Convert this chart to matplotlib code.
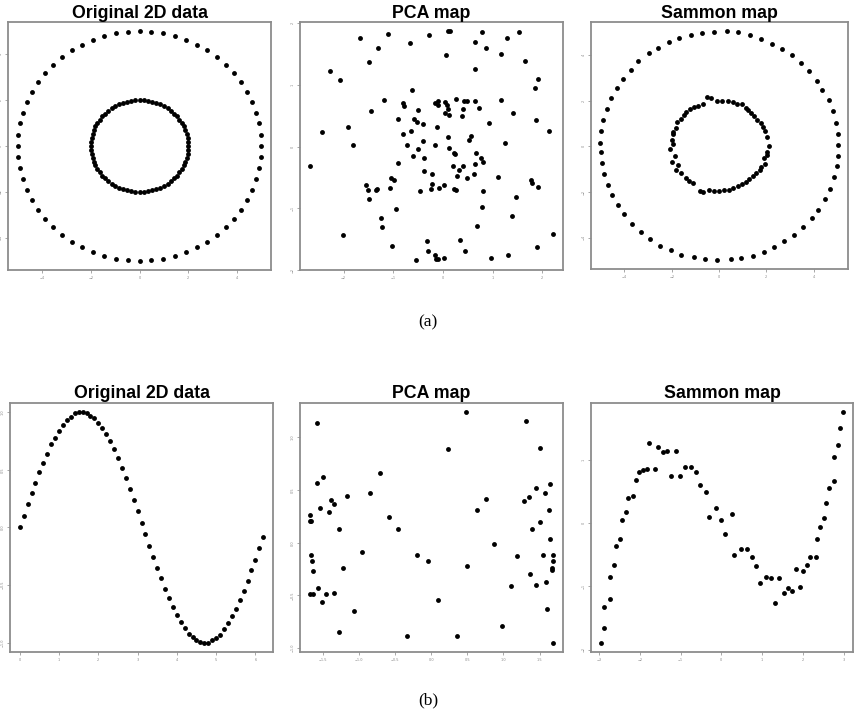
import matplotlib
matplotlib.use("Agg")
import matplotlib.pyplot as plt

# ---- (a) two concentric circles ----
circ_outer_x = [5.00, 4.98, 4.90, 4.78, 4.62, 4.41, 4.16, 3.87, 3.54, 3.17, 2.78, 2.36, 1.91, 1.45, 0.98, 0.49,
                0.00, -0.49, -0.98, -1.45, -1.91, -2.36, -2.78, -3.17, -3.54, -3.87, -4.16, -4.41, -4.62, -4.78, -4.90, -4.98,
                -5.00, -4.98, -4.90, -4.78, -4.62, -4.41, -4.16, -3.87, -3.54, -3.17, -2.78, -2.36, -1.91, -1.45, -0.98, -0.49,
                0.00, 0.49, 0.98, 1.45, 1.91, 2.36, 2.78, 3.17, 3.54, 3.87, 4.16, 4.41, 4.62, 4.78, 4.90, 4.98]
circ_outer_y = [0.00, 0.49, 0.98, 1.45, 1.91, 2.36, 2.78, 3.17, 3.54, 3.87, 4.16, 4.41, 4.62, 4.78, 4.90, 4.98,
                5.00, 4.98, 4.90, 4.78, 4.62, 4.41, 4.16, 3.87, 3.54, 3.17, 2.78, 2.36, 1.91, 1.45, 0.98, 0.49,
                0.00, -0.49, -0.98, -1.45, -1.91, -2.36, -2.78, -3.17, -3.54, -3.87, -4.16, -4.41, -4.62, -4.78, -4.90, -4.98,
                -5.00, -4.98, -4.90, -4.78, -4.62, -4.41, -4.16, -3.87, -3.54, -3.17, -2.78, -2.36, -1.91, -1.45, -0.98, -0.49]
circ_inner_x = [2.00, 1.99, 1.97, 1.93, 1.88, 1.81, 1.73, 1.64, 1.53, 1.41, 1.29, 1.15, 1.00, 0.85, 0.68, 0.52, 0.35, 0.17,
                0.00, -0.17, -0.35, -0.52, -0.68, -0.85, -1.00, -1.15, -1.29, -1.41, -1.53, -1.64, -1.73, -1.81, -1.88, -1.93, -1.97, -1.99,
                -2.00, -1.99, -1.97, -1.93, -1.88, -1.81, -1.73, -1.64, -1.53, -1.41, -1.29, -1.15, -1.00, -0.85, -0.68, -0.52, -0.35, -0.17,
                0.00, 0.17, 0.35, 0.52, 0.68, 0.85, 1.00, 1.15, 1.29, 1.41, 1.53, 1.64, 1.73, 1.81, 1.88, 1.93, 1.97, 1.99]
circ_inner_y = [0.00, 0.17, 0.35, 0.52, 0.68, 0.85, 1.00, 1.15, 1.29, 1.41, 1.53, 1.64, 1.73, 1.81, 1.88, 1.93, 1.97, 1.99,
                2.00, 1.99, 1.97, 1.93, 1.88, 1.81, 1.73, 1.64, 1.53, 1.41, 1.29, 1.15, 1.00, 0.85, 0.68, 0.52, 0.35, 0.17,
                0.00, -0.17, -0.35, -0.52, -0.68, -0.85, -1.00, -1.15, -1.29, -1.41, -1.53, -1.64, -1.73, -1.81, -1.88, -1.93, -1.97, -1.99,
                -2.00, -1.99, -1.97, -1.93, -1.88, -1.81, -1.73, -1.64, -1.53, -1.41, -1.29, -1.15, -1.00, -0.85, -0.68, -0.52, -0.35, -0.17]

pca_a_x = [-2.68, -2.44, -2.28, -2.07, -2.01, -1.91, -1.80, -1.67, -1.54, -1.50, -1.49, -1.48, -1.45, -1.35, -1.32,
           -1.30, -1.25, -1.23, -1.19, -1.11, -1.07, -1.04, -0.99, -1.02, -0.94, -0.90, -0.90, -0.81, -0.80, -0.79,
           -0.73, -0.67, -0.64, -0.63, -0.61, -0.59, -0.53, -0.55, -0.51, -0.51, -0.46, -0.40, -0.40, -0.39, -0.38,
           -0.32, -0.30, -0.28, -0.22, -0.22, -0.24, -0.17, -0.15, -0.15, -0.14, -0.10, -0.11, -0.09, -0.09, -0.07,
           0.03, 0.03, 0.05, 0.05, 0.06, 0.08, 0.10, 0.11, 0.11, 0.13, 0.15, 0.12, 0.20, 0.22, 0.22,
           0.24, 0.26, 0.27, 0.28, 0.32, 0.34, 0.38, 0.40, 0.40, 0.43, 0.44, 0.48, 0.48, 0.53, 0.57,
           0.63, 0.64, 0.65, 0.65, 0.65, 0.66, 0.69, 0.72, 0.76, 0.79, 0.79, 0.80, 0.81, 0.87, 0.92,
           0.97, 1.10, 1.16, 1.16, 1.24, 1.28, 1.30, 1.39, 1.40, 1.47, 1.54, 1.65, 1.78, 1.79, 1.85,
           1.87, 1.90, 1.91, 1.92, 2.13, 2.22]
pca_a_y = [-0.32, 0.24, 1.23, 1.08, -1.43, 0.31, 0.03, 1.76, -0.63, -0.70, -0.85, 1.37, 0.58, -0.71, -0.68,
           1.59, -1.16, -1.31, 0.75, 1.82, -0.67, -0.51, -0.55, -1.61, -1.01, 0.45, -0.26, 0.21, 0.71, 0.65,
           0.02, 1.68, 0.25, 0.91, -0.15, 0.44, 0.40, -1.84, 0.59, -0.04, -0.72, 0.37, 0.09, -0.39, -0.19,
           -1.53, -1.69, 1.81, -0.45, -0.60, -0.68, 0.03, 0.70, -1.76, -1.83, -1.83, 0.32, 0.74, 0.67, -0.67,
           -1.81, -0.63, 0.54, 0.72, 1.48, 0.67, 0.16, 1.87, 0.60, 0.51, 1.87, -0.03, -0.31, -0.68, -0.10,
           -0.12, -0.70, 0.77, -0.47, -0.38, -1.52, 0.49, 0.60, -0.32, 0.74, -1.69, 0.73, -0.51, 0.10, 0.17,
           -0.44, 0.74, -0.29, 1.69, 1.26, -0.10, -1.28, 0.63, -0.18, 1.86, -0.98, -0.25, -0.72, 1.60, 0.38,
           -1.81, -0.50, 1.50, 0.75, 0.05, 1.76, -1.76, -1.13, 0.54, -0.82, 1.85, 1.38, -0.55, -0.59, 0.95,
           0.43, -1.62, -0.66, 1.10, 0.25, -1.41]

sammon_a_x = [-0.21, 0.33, 0.81, 1.30, 1.78, 2.26, 2.68, 3.10, 3.48, 3.81, 4.14, 4.37, 4.65, 4.83, 4.94, 5.01,
              5.05, 5.02, 4.97, 4.84, 4.69, 4.48, 4.18, 3.92, 3.54, 3.19, 2.74, 2.33, 1.90, 1.45, 0.94, 0.50,
              -0.08, -0.58, -1.05, -1.59, -2.03, -2.51, -2.92, -3.31, -3.67, -4.00, -4.28, -4.51, -4.70, -4.87, -4.94, -4.99,
              -5.01, -4.99, -4.90, -4.74, -4.57, -4.32, -4.06, -3.74, -3.42, -2.98, -2.58, -2.12, -1.68, -1.17, -0.72,
              -0.52, -0.32, -0.07, 0.12, 0.36, 0.58, 0.74, 0.97, 1.12, 1.23, 1.37, 1.50, 1.60, 1.79, 1.85, 1.96,
              2.03, 2.10, 2.01, 2.03, 1.89, 1.94, 1.78, 1.72, 1.57, 1.45, 1.28, 1.14, 0.97, 0.80, 0.61, 0.41,
              0.23, -0.01, -0.22, -0.41, -0.66, -0.81, -1.10, -1.27, -1.38, -1.59, -1.81, -1.74, -1.97, -1.88, -2.07, -1.96,
              -2.00, -1.94, -1.94, -1.82, -1.78, -1.60, -1.49, -1.38, -1.21, -1.06, -0.87, -0.68]
sammon_a_y = [5.01, 5.04, 4.99, 4.87, 4.70, 4.49, 4.26, 4.01, 3.64, 3.28, 2.87, 2.46, 2.03, 1.55, 1.01, 0.52,
              0.04, -0.41, -0.88, -1.36, -1.86, -2.29, -2.78, -3.13, -3.54, -3.87, -4.16, -4.43, -4.61, -4.80, -4.90, -4.93,
              -4.97, -4.93, -4.86, -4.75, -4.54, -4.36, -4.04, -3.75, -3.42, -2.97, -2.58, -2.14, -1.68, -1.20, -0.74, -0.25,
              0.13, 0.68, 1.17, 1.64, 2.09, 2.54, 2.94, 3.33, 3.74, 4.06, 4.32, 4.55, 4.74, 4.88, 4.96,
              2.16, 2.09, 1.97, 1.99, 1.99, 1.93, 1.86, 1.83, 1.67, 1.59, 1.45, 1.33, 1.16, 1.01, 0.84, 0.67,
              0.42, 0.01, -0.23, -0.39, -0.52, -0.77, -0.90, -1.06, -1.17, -1.32, -1.45, -1.55, -1.64, -1.72, -1.81, -1.90,
              -1.93, -1.94, -1.96, -1.93, -1.99, -1.96, -1.62, -1.52, -1.38, -1.17, -1.03, -0.83, -0.68, -0.43, -0.13, 0.10,
              0.26, 0.54, 0.64, 0.81, 1.06, 1.20, 1.36, 1.49, 1.62, 1.71, 1.78, 1.83]

# ---- (b) sine curve ----
sine_x = [0.0, 0.1, 0.2, 0.3, 0.4, 0.5, 0.6, 0.7, 0.8, 0.9, 1.0, 1.1, 1.2, 1.3, 1.4, 1.5,
          1.6, 1.7, 1.8, 1.9, 2.0, 2.1, 2.2, 2.3, 2.4, 2.5, 2.6, 2.7, 2.8, 2.9, 3.0, 3.1,
          3.2, 3.3, 3.4, 3.5, 3.6, 3.7, 3.8, 3.9, 4.0, 4.1, 4.2, 4.3, 4.4, 4.5, 4.6, 4.7,
          4.8, 4.9, 5.0, 5.1, 5.2, 5.3, 5.4, 5.5, 5.6, 5.7, 5.8, 5.9, 6.0, 6.1, 6.2]
sine_y = [0.00, 0.10, 0.20, 0.30, 0.39, 0.48, 0.56, 0.64, 0.72, 0.78, 0.84, 0.89, 0.93, 0.96, 0.99, 1.00,
          1.00, 0.99, 0.97, 0.95, 0.91, 0.86, 0.81, 0.75, 0.68, 0.60, 0.52, 0.43, 0.33, 0.24, 0.14, 0.04,
          -0.06, -0.16, -0.26, -0.35, -0.44, -0.53, -0.61, -0.69, -0.76, -0.82, -0.87, -0.92, -0.95, -0.98, -0.99, -1.00,
          -1.00, -0.98, -0.96, -0.93, -0.88, -0.83, -0.77, -0.71, -0.63, -0.55, -0.46, -0.37, -0.28, -0.18, -0.08]

pca_b_x = [-1.58, 1.31, 0.23, 1.51, 0.48, -1.49, -1.58, -0.71, 1.45, 1.65, -0.84, -1.16, 1.57, 0.76, 1.35, 1.28,
           -1.39, -1.34, -1.54, -1.42, -1.67, -1.68, -1.66, 0.63, 1.63, -0.59, 1.51, -1.28, -0.46, 1.40, 1.65,
           0.87, -0.96, -1.66, -0.19, 1.55, 1.69, 1.19, -1.65, -0.05, 1.69, 0.50, -1.22, 1.67, 1.67, -1.63,
           1.37, 1.59, 1.10, 1.45, -1.56, -1.68, -1.63, -1.45, -1.34, -1.51, 0.09, 1.61, -1.07, 0.98, -1.27,
           -0.34, 0.36, 1.69]
pca_b_y = [1.14, 1.16, 0.89, 0.90, 1.24, 0.62, 0.57, 0.66, 0.52, 0.56, 0.47, 0.44, 0.47, 0.42, 0.43, 0.40,
           0.41, 0.37, 0.33, 0.29, 0.26, 0.21, 0.21, 0.31, 0.31, 0.24, 0.20, 0.13, 0.13, 0.13, 0.04,
           -0.01, -0.09, -0.12, -0.12, -0.12, -0.12, -0.13, -0.17, -0.17, -0.17, -0.22, -0.24, -0.24, -0.26, -0.27,
           -0.30, -0.37, -0.41, -0.40, -0.43, -0.49, -0.49, -0.49, -0.48, -0.56, -0.54, -0.63, -0.65, -0.79, -0.85,
           -0.89, -0.89, -0.95]

sammon_b_x = [-2.96, -2.89, -2.87, -2.73, -2.72, -2.63, -2.58, -2.48, -2.44, -2.34, -2.29, -2.17, -2.10, -2.02, -1.92, -1.83,
              -1.77, -1.63, -1.55, -1.43, -1.33, -1.23, -1.11, -1.01, -0.88, -0.74, -0.63, -0.52, -0.38, -0.30, -0.14, -0.02,
              0.09, 0.27, 0.32, 0.48, 0.63, 0.74, 0.85, 0.96, 1.10, 1.21, 1.31, 1.41, 1.53, 1.64, 1.73, 1.82,
              1.93, 2.01, 2.11, 2.18, 2.32, 2.35, 2.43, 2.51, 2.57, 2.63, 2.77, 2.76, 2.86, 2.92, 2.99]
sammon_b_y = [-1.89, -1.65, -1.33, -1.20, -0.85, -0.67, -0.37, -0.25, 0.05, 0.18, 0.40, 0.42, 0.68, 0.80, 0.84, 0.86,
              1.26, 0.86, 1.20, 1.12, 1.14, 0.74, 1.13, 0.74, 0.88, 0.88, 0.80, 0.60, 0.49, 0.09, 0.23, 0.05,
              -0.17, 0.14, -0.51, -0.41, -0.41, -0.53, -0.68, -0.94, -0.85, -0.87, -1.27, -0.86, -1.11, -1.02, -1.07, -0.73,
              -1.01, -0.75, -0.67, -0.53, -0.54, -0.25, -0.07, 0.08, 0.32, 0.55, 0.66, 1.05, 1.24, 1.50, 1.75]

titles = ["Original 2D data", "PCA map", "Sammon map"]

panels = [
    # (left, bottom, width, height), x data, y data, x ticks, y ticks
    ((0.0094, 0.6245, 0.3076, 0.3450), circ_outer_x + circ_inner_x, circ_outer_y + circ_inner_y,
     [-4, -2, 0, 2, 4], [-4, -2, 0, 2, 4]),
    ((0.3509, 0.6245, 0.3076, 0.3450), pca_a_x, pca_a_y,
     [-2, -1, 0, 1, 2], [-2, -1, 0, 1, 2]),
    ((0.6912, 0.6259, 0.3006, 0.3436), sammon_a_x, sammon_a_y,
     [-4, -2, 0, 2, 4], [-4, -2, 0, 2, 4]),
    ((0.0117, 0.0932, 0.3076, 0.3463), sine_x, sine_y,
     [0, 1, 2, 3, 4, 5, 6], [-1.0, -0.5, 0.0, 0.5, 1.0]),
    ((0.3509, 0.0932, 0.3076, 0.3463), pca_b_x, pca_b_y,
     [-1.5, -1.0, -0.5, 0.0, 0.5, 1.0, 1.5], [-1.0, -0.5, 0.0, 0.5, 1.0]),
    ((0.6912, 0.0932, 0.3064, 0.3463), sammon_b_x, sammon_b_y,
     [-3, -2, -1, 0, 1, 2, 3], [-2, -1, 0, 1]),
]

# baseline of the panel titles for the two rows (figure fraction)
title_baseline = [1 - 18.5 / 719, 1 - 397.5 / 719]

fig = plt.figure(figsize=(8.55, 7.19), dpi=100)

for i, (rect, xs, ys, xt, yt) in enumerate(panels):
    ax = fig.add_axes(rect)
    ax.plot(xs, ys, "o", color="black", ms=3.5, mew=0)
    ax.margins(0.04)
    ax.set_xticks(xt)
    ax.set_yticks(yt)
    ax.tick_params(length=2, width=0.6, color="#999999", labelsize=2.5,
                   labelcolor="#888888", pad=2)
    for lab in ax.get_yticklabels():
        lab.set_rotation(90)
        lab.set_va("center")
    for sp in ax.spines.values():
        sp.set_color("#8c8c8c")
        sp.set_linewidth(1.3)
    x0, y0, w, h = rect
    fig.text(x0 + w / 2, title_baseline[i // 3], titles[i % 3], ha="center", va="baseline",
             fontsize=12.8, fontweight="bold", family="Liberation Sans")

fig.text(0.5006, 1 - 322 / 719, "(a)", ha="center", va="center",
         fontsize=12.5, family="Liberation Serif")
fig.text(0.5006, 1 - 700 / 719, "(b)", ha="center", va="center",
         fontsize=12.5, family="Liberation Serif")

fig.savefig("out.png", dpi=100, facecolor="white")
